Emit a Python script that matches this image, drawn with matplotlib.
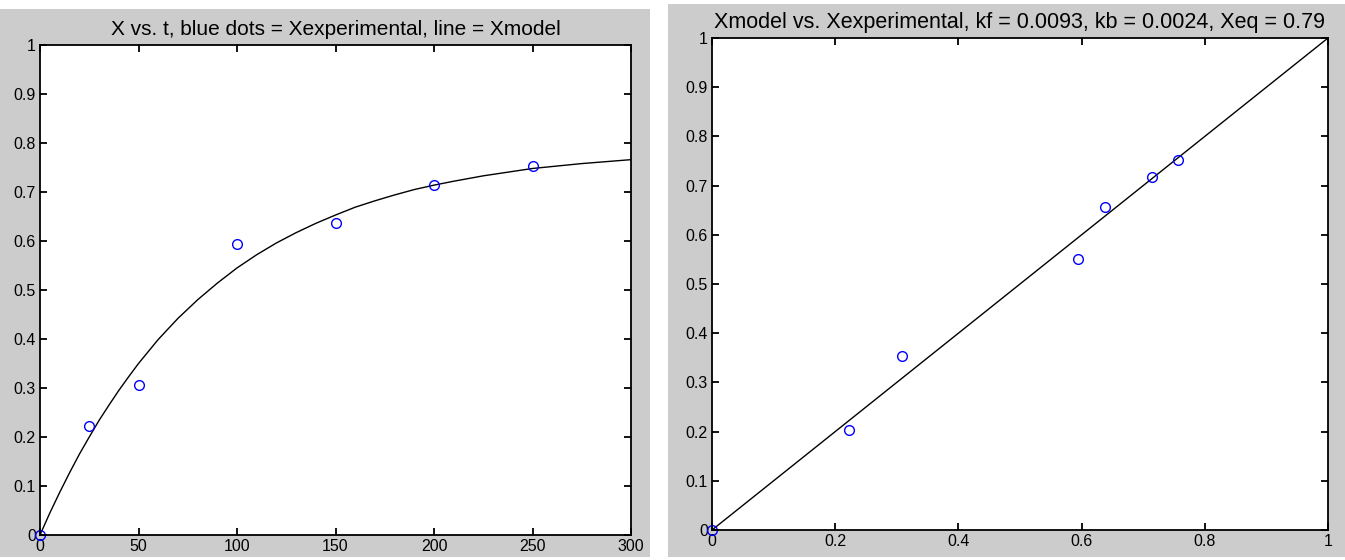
import matplotlib
matplotlib.use('Agg')
import matplotlib.pyplot as plt
from matplotlib.patches import Rectangle

plt.rcParams['font.family'] = ['Liberation Sans Narrow', 'Liberation Sans', 'DejaVu Sans']

# Messwerte (links): Zeit und experimentelles X
t_exp = [0, 25, 50, 100, 150, 200, 250]
x_exp = [0, 0.222, 0.306, 0.593, 0.637, 0.714, 0.754]

# Modellkurve
t_model = [0, 5, 10, 15, 20, 25, 30, 35, 40, 45, 50, 60, 70, 80, 90, 100,
           110, 120, 130, 140, 150, 160, 170, 180, 190, 200, 210, 225, 240,
           250, 275, 300]
x_model = [0, 0.045, 0.087, 0.127, 0.165, 0.200, 0.234, 0.265, 0.295, 0.323,
           0.350, 0.399, 0.442, 0.480, 0.514, 0.545, 0.572, 0.596, 0.617,
           0.636, 0.653, 0.669, 0.682, 0.694, 0.705, 0.714, 0.722, 0.733,
           0.742, 0.748, 0.758, 0.766]

# rechts: Xexperimental gegen Xmodel
xr_exp = [0, 0.223, 0.308, 0.594, 0.638, 0.714, 0.756]
xr_model = [0, 0.203, 0.354, 0.551, 0.657, 0.717, 0.752]
diag = [0, 1]

title_left = 'X vs. t, blue dots = Xexperimental, line = Xmodel'
title_right = 'Xmodel vs. Xexperimental, kf = 0.0093, kb = 0.0024, Xeq = 0.79'

W, H = 1345, 560
fig = plt.figure(figsize=(W / 100, H / 100), dpi=100, facecolor='white')

# graue Hintergründe der beiden Fenster
gray = '#cccccc'
fig.add_artist(Rectangle((0, 1 - 557 / H), 650 / W, 548 / H,
                         transform=fig.transFigure, facecolor=gray, edgecolor='none', zorder=-10))
fig.add_artist(Rectangle((668 / W, 1 - 557 / H), (W - 668) / W, 553 / H,
                         transform=fig.transFigure, facecolor=gray, edgecolor='none', zorder=-10))


def style_axes(ax):
    ax.set_facecolor('white')
    for s in ax.spines.values():
        s.set_linewidth(1.3)
        s.set_color('black')
    ax.tick_params(direction='in', length=5, width=1.3, top=True, right=True,
                   labelsize=11.5, colors='black', pad=3)


ylabels = ['0', '0.1', '0.2', '0.3', '0.4', '0.5', '0.6', '0.7', '0.8', '0.9', '1']

ax1 = fig.add_axes([40 / W, 1 - 535 / H, 591 / W, 490 / H])
ax1.plot(t_model, x_model, color='black', lw=1.0)
ax1.plot(t_exp, x_exp, 'o', mfc='none', mec='blue', ms=7, mew=1.0, clip_on=False)
ax1.set_xlim(0, 300)
ax1.set_ylim(0, 1)
ax1.set_xticks([0, 50, 100, 150, 200, 250, 300])
ax1.set_yticks([i / 10 for i in range(11)])
ax1.set_yticklabels(ylabels)
ax1.set_title(title_left, fontsize=15, pad=7)
style_axes(ax1)

ax2 = fig.add_axes([712 / W, 1 - 530 / H, 616 / W, 492 / H])
ax2.plot(diag, diag, color='black', lw=1.0)
ax2.plot(xr_exp, xr_model, 'o', mfc='none', mec='blue', ms=7, mew=1.0, clip_on=False)
ax2.set_xlim(0, 1)
ax2.set_ylim(0, 1)
ax2.set_xticks([0, 0.2, 0.4, 0.6, 0.8, 1])
ax2.set_xticklabels(['0', '0.2', '0.4', '0.6', '0.8', '1'])
ax2.set_yticks([i / 10 for i in range(11)])
ax2.set_yticklabels(ylabels)
ax2.set_title(title_right, fontsize=15.5, pad=7)
style_axes(ax2)

plt.savefig('out.png', dpi=100, facecolor='white')
